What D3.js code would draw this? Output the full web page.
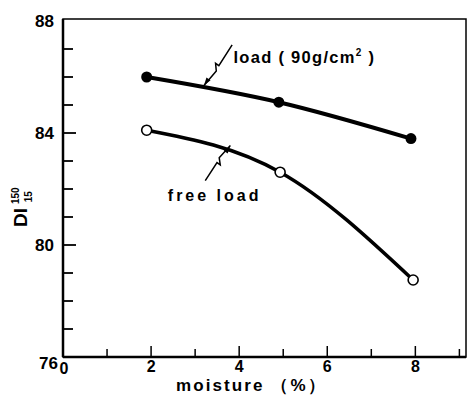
<!DOCTYPE html>
<html><head><meta charset="utf-8">
<script src="https://cdn.jsdelivr.net/npm/d3@7"></script>
<style>body{margin:0;background:#fff}</style>
</head><body>
<svg id="c" width="472" height="396"></svg>
<script>
const moistureLoad = [1.9, 4.9, 7.9];
const diLoad = [86.0, 85.1, 83.8];
const moistureFree = [1.9, 4.93, 7.95];
const diFree = [84.1, 82.6, 78.75];
const xTickLabels = [0, 2, 4, 6, 8];
const yTickLabels = [76, 80, 84, 88];

const svg = d3.select("#c");
const x = d3.scaleLinear().domain([0, 9.15]).range([63, 466]);
const y = d3.scaleLinear().domain([76, 88]).range([357, 21]);
const font = "'Liberation Sans', Arial, sans-serif";

// frame
svg.append("rect").attr("x", x(0)).attr("y", y(88) - 2).attr("width", x(9.15) - x(0)).attr("height", y(76) - y(88) + 2)
  .attr("fill", "none").attr("stroke", "#000").attr("stroke-width", 1.5);
svg.append("line").attr("x1", x(0)).attr("x2", x(0)).attr("y1", y(88) - 2).attr("y2", y(76)).attr("stroke", "#000").attr("stroke-width", 2.5);
svg.append("line").attr("x1", x(0)).attr("x2", x(9.15)).attr("y1", y(76)).attr("y2", y(76)).attr("stroke", "#000").attr("stroke-width", 2.5);

// y ticks
d3.range(77, 88).forEach(v => {
  const major = v % 4 === 0;
  svg.append("line").attr("x1", x(0)).attr("x2", x(0) + (major ? 13 : 10)).attr("y1", y(v)).attr("y2", y(v))
    .attr("stroke", "#000").attr("stroke-width", 1.8);
});
// x ticks
d3.range(1, 10).forEach(v => {
  const major = v % 2 === 0;
  svg.append("line").attr("x1", x(v)).attr("x2", x(v)).attr("y1", y(76)).attr("y2", y(76) - (major ? 11 : 8))
    .attr("stroke", "#000").attr("stroke-width", 1.5);
});

// y tick labels
yTickLabels.forEach(v => {
  svg.append("text").attr("x", x(0) - (v === 76 ? 5 : 9)).attr("y", v === 76 ? y(v) + 12 : y(v) + 6)
    .attr("text-anchor", "end").attr("font-family", font).attr("font-size", 17).attr("font-weight", "bold").text(v);
});
// x tick labels
xTickLabels.forEach(v => {
  svg.append("text").attr("x", x(v) + (v === 0 ? 1 : 0)).attr("y", v === 0 ? y(76) + 17 : y(76) + 15)
    .attr("text-anchor", "middle").attr("font-family", font).attr("font-size", 16).attr("font-weight", "bold").text(v);
});

// axis titles
svg.append("text").attr("x", 176).attr("y", 391)
  .attr("font-family", font).attr("font-size", 17).attr("font-weight", "bold").attr("letter-spacing", 2.1)
  .text("moisture （%）");

const yl = svg.append("text").attr("transform", "translate(27,227) rotate(-90)")
  .attr("font-family", font).attr("font-weight", "bold");
yl.append("tspan").attr("font-size", 19).text("DI");
yl.append("tspan").attr("font-size", 10).attr("dx", 4).attr("dy", -8).text("150");
yl.append("tspan").attr("font-size", 10).attr("dx", -15).attr("dy", 13).text("15");

// curves
const line = d3.line().x(d => x(d[0])).y(d => y(d[1])).curve(d3.curveMonotoneX);
const loadPts = moistureLoad.map((m, i) => [m, diLoad[i]]);
const freePts = moistureFree.map((m, i) => [m, diFree[i]]);
svg.append("path").attr("d", line(loadPts)).attr("fill", "none").attr("stroke", "#000").attr("stroke-width", 4);
svg.append("path").attr("d", line(freePts)).attr("fill", "none").attr("stroke", "#000").attr("stroke-width", 3.5);

svg.selectAll(".pl").data(loadPts).enter().append("circle")
  .attr("cx", d => x(d[0])).attr("cy", d => y(d[1])).attr("r", 5.5).attr("fill", "#000");
svg.selectAll(".pf").data(freePts).enter().append("circle")
  .attr("cx", d => x(d[0])).attr("cy", d => y(d[1])).attr("r", 5).attr("fill", "#fff").attr("stroke", "#000").attr("stroke-width", 1.6);

// zigzag leaders (start at curve with arrowhead)
function leader(x0, y0, x1, y1) {
  const dx = x1 - x0, dy = y1 - y0;
  const L = Math.hypot(dx, dy), ux = dx / L, uy = dy / L;
  const nx = -uy, ny = ux;
  const p = t => [x0 + dx * t, y0 + dy * t];
  const a = p(0.38), b = p(0.5);
  const pts = [[x0, y0], [a[0] + nx * 2, a[1] + ny * 2], [b[0] - nx * 3, b[1] - ny * 3], [b[0] + nx * 1, b[1] + ny * 1], [x1, y1]];
  svg.append("path").attr("d", d3.line()(pts)).attr("fill", "none").attr("stroke", "#000").attr("stroke-width", 1.5);
  const tip = [x0, y0], base = [x0 + ux * 8, y0 + uy * 8];
  svg.append("path").attr("d", d3.line()([tip, [base[0] + nx * 2.5, base[1] + ny * 2.5], [base[0] - nx * 2.5, base[1] - ny * 2.5]]) + "Z")
    .attr("fill", "#000");
}
leader(x(3.2), y(85.7), x(3.84), y(87.15));
leader(x(3.80), y(83.55), x(3.23), y(82.3));

// annotations
const lt = svg.append("text").attr("x", x(3.87)).attr("y", y(86.7) + 6)
  .attr("font-family", font).attr("font-size", 16.5).attr("font-weight", "bold").attr("letter-spacing", 1.3);
lt.append("tspan").text("load ( 90g/cm");
lt.append("tspan").attr("font-size", 10).attr("dy", -7).text("2");
lt.append("tspan").attr("dy", 7).text(" )");

svg.append("text").attr("x", x(2.38)).attr("y", y(81.8) + 6)
  .attr("font-family", font).attr("font-size", 16).attr("font-weight", "bold").attr("letter-spacing", 3)
  .text("free load");
</script>
</body></html>
